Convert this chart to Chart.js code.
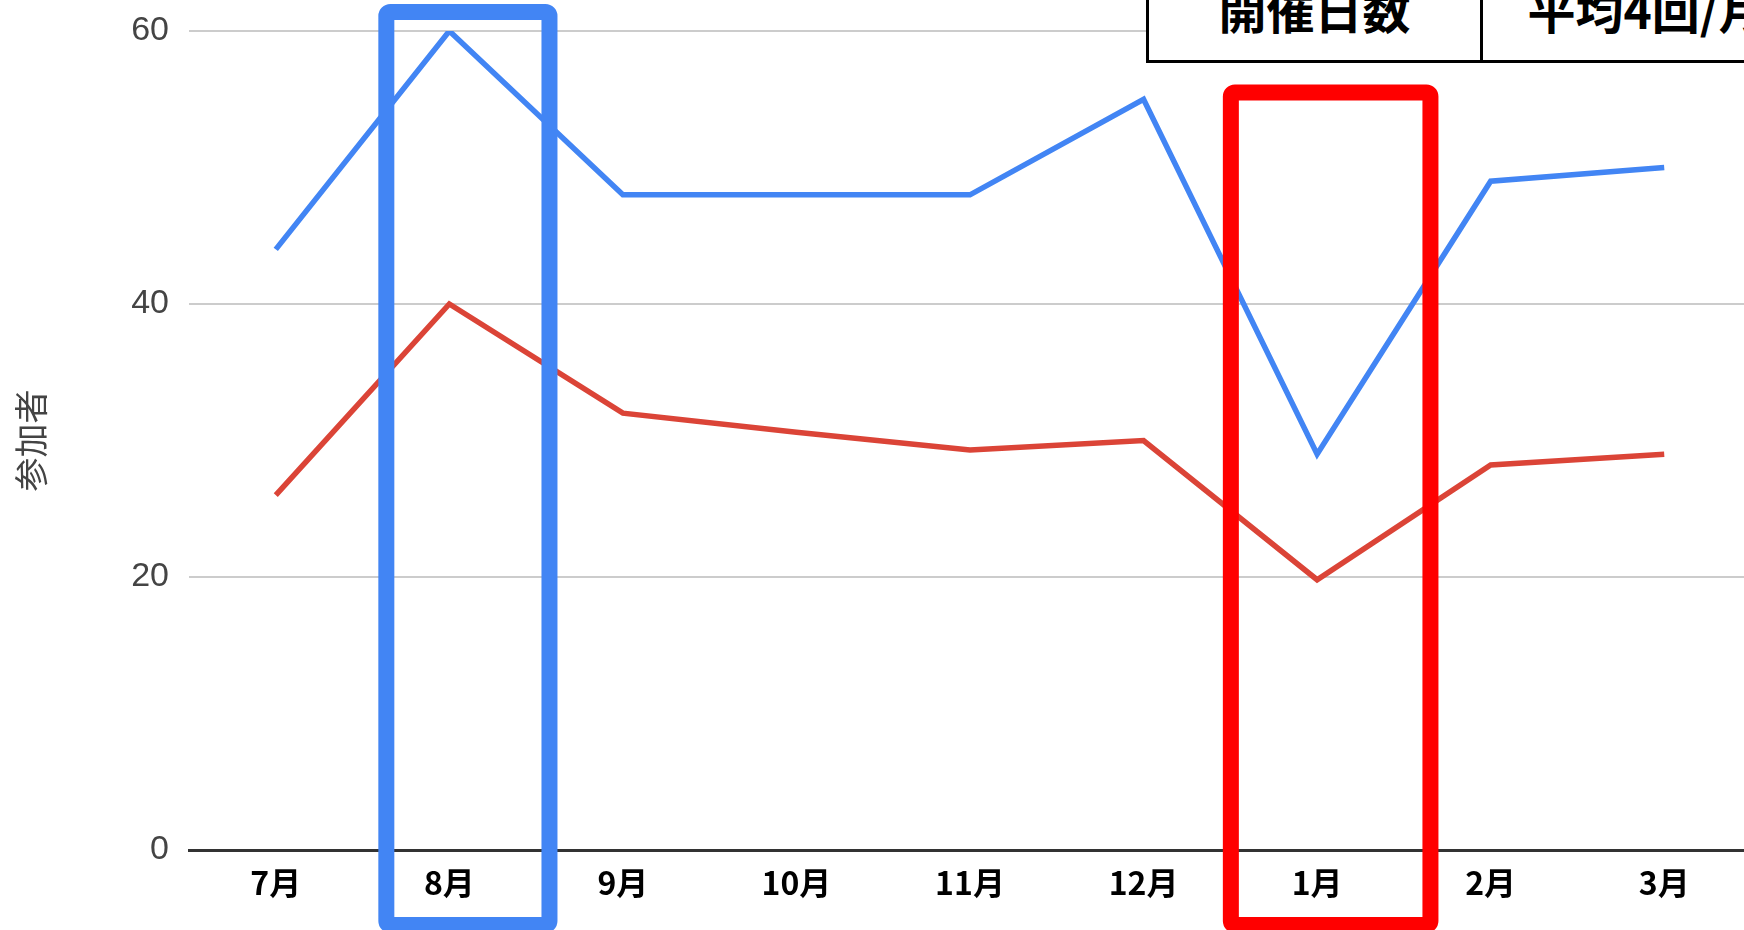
<!DOCTYPE html>
<html lang="ja">
<head>
    <meta charset="UTF-8">
    <title>参加者推移</title>
    <style>
        html, body { margin: 0; padding: 0; background: #fff; overflow: hidden; }
        .wrap { position: relative; width: 1744px; height: 930px; overflow: hidden; }
        #chart { position: absolute; left: 0; top: 0; }
        .info { position: absolute; left: 1146px; top: -40px; height: 97px; display: flex;
                border: 3px solid #000; font-family: 'Noto Sans CJK JP', sans-serif; font-weight: 700;
                font-size: 48px; color: #000; background: #fff; }
        .info div { width: 331px; text-align: center; line-height: 48px; padding-top: 21px; box-sizing: border-box; }
        .info div + div { border-left: 3px solid #000; }
    </style>
</head>
<body>
    <div class="wrap">
        <canvas id="chart" width="1751" height="930"></canvas>
        <div class="info"><div>開催日数</div><div>平均4回/月</div></div>
    </div>

    <script src="https://cdn.jsdelivr.net/npm/chart.js"></script>
    <script>
        const months = ['7月', '8月', '9月', '10月', '11月', '12月', '1月', '2月', '3月'];
        const blueValues = [44, 60, 48, 48, 48, 55, 29, 49, 50];
        const redValues = [26, 40, 32, 30.6, 29.3, 30, 19.8, 28.2, 29];
        const yTicks = [0, 20, 40, 60];
        const yTitle = '参加者';

        // highlight frames around a month
        const frames = [
            { month: '8月', color: '#4285F4', shift: 0.107, width: 0.94, top: 61.4 },
            { month: '1月', color: '#FF0000', shift: 0.078, width: 1.15, top: 55.5 }
        ];

        const framePlugin = {
            id: 'frames',
            afterDraw(chart) {
                const x = chart.scales.x, y = chart.scales.y;
                const step = x.getPixelForValue(1) - x.getPixelForValue(0);
                const ctx = chart.ctx;
                ctx.save();
                ctx.lineWidth = 16;
                ctx.lineJoin = 'round';
                frames.forEach(f => {
                    const cx = x.getPixelForValue(months.indexOf(f.month)) + f.shift * step;
                    const w = f.width * step;
                    const top = y.getPixelForValue(f.top);
                    const bottom = chart.chartArea.bottom + 75;
                    ctx.strokeStyle = f.color;
                    ctx.beginPath();
                    ctx.roundRect(cx - w / 2, top, w, bottom - top, 4);
                    ctx.stroke();
                });
                ctx.restore();
            }
        };

        new Chart(document.getElementById('chart'), {
            type: 'line',
            data: {
                labels: months,
                datasets: [
                    { data: blueValues, borderColor: '#4285F4', borderWidth: 5.5, pointRadius: 0, tension: 0 },
                    { data: redValues, borderColor: '#DB4437', borderWidth: 5.5, pointRadius: 0, tension: 0 }
                ]
            },
            options: {
                responsive: false,
                animation: false,
                devicePixelRatio: 1,
                layout: { padding: { top: 31, left: 0, right: 0, bottom: 0 } },
                plugins: { legend: { display: false }, tooltip: { enabled: false } },
                scales: {
                    x: {
                        offset: true,
                        grid: { display: false, drawTicks: false },
                        border: { color: '#333', width: 3 },
                        ticks: {
                            padding: 14,
                            color: '#000',
                            font: { family: "'Noto Sans CJK JP', sans-serif", size: 32, weight: 'bold' }
                        },
                        afterFit(scale) { scale.height = 80; }
                    },
                    y: {
                        min: 0,
                        max: 60,
                        afterBuildTicks(scale) { scale.ticks = yTicks.map(v => ({ value: v })); },
                        border: { display: false },
                        grid: {
                            drawTicks: false,
                            lineWidth: 2,
                            color: ctx => ctx.tick && ctx.tick.value === 0 ? 'rgba(0,0,0,0)' : '#cccccc'
                        },
                        ticks: {
                            padding: 20,
                            color: '#444',
                            font: { family: "'Liberation Sans', Arial, sans-serif", size: 34 }
                        },
                        title: {
                            display: true,
                            text: yTitle,
                            color: '#444',
                            padding: { top: 11, bottom: 0 },
                            font: { family: "'Noto Sans CJK JP', sans-serif", size: 34 }
                        },
                        afterFit(scale) {
                            scale.width = 189;
                            scale.paddingTop = 0;
                            scale.paddingBottom = 0;
                        }
                    }
                }
            },
            plugins: [framePlugin]
        });
    </script>
</body>
</html>
